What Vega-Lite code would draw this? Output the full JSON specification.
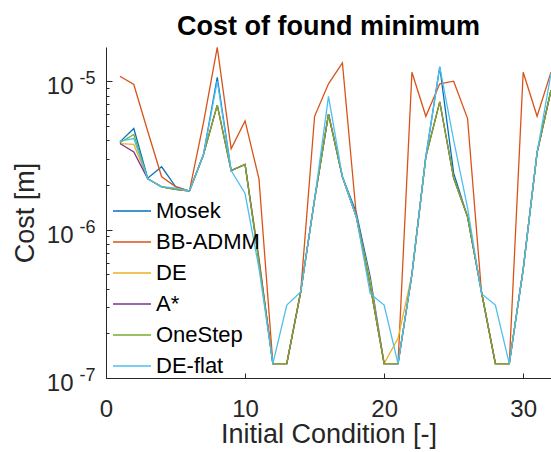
{
  "$schema": "https://vega.github.io/schema/vega-lite/v6.json",
  "autosize": "none",
  "width": 445,
  "height": 331,
  "padding": {"left": 106, "top": 47, "right": 0, "bottom": 74},
  "background": "white",
  "config": {
    "view": {"stroke": null},
    "font": "Liberation Sans",
    "axis": {"grid": false, "domainColor": "#262626", "tickColor": "#262626", "labelColor": "#262626", "titleColor": "#262626", "labelFont": "Liberation Sans", "titleFont": "Liberation Sans", "titleFontWeight": "normal", "domainWidth": 1, "tickWidth": 1}
  },
  "title": {"text": "Cost of found minimum", "fontSize": 27, "fontWeight": "bold", "font": "Liberation Sans", "color": "#000000", "anchor": "middle", "offset": 4},
  "data": {"values": [
    {"m":"Mosek","x":1,"c":3.9e-6},{"m":"Mosek","x":2,"c":4.8e-6},{"m":"Mosek","x":3,"c":2.22e-6},{"m":"Mosek","x":4,"c":2.65e-6},{"m":"Mosek","x":5,"c":1.95e-6},{"m":"Mosek","x":6,"c":1.82e-6},{"m":"Mosek","x":7,"c":3.18e-6},{"m":"Mosek","x":8,"c":1.06e-5},{"m":"Mosek","x":9,"c":2.5e-6},{"m":"Mosek","x":10,"c":2.75e-6},{"m":"Mosek","x":11,"c":6.2e-7},{"m":"Mosek","x":12,"c":1.25e-7},{"m":"Mosek","x":13,"c":1.25e-7},{"m":"Mosek","x":14,"c":3.8e-7},{"m":"Mosek","x":15,"c":1.6e-6},{"m":"Mosek","x":16,"c":6.0e-6},{"m":"Mosek","x":17,"c":2.27e-6},{"m":"Mosek","x":18,"c":1.3e-6},{"m":"Mosek","x":19,"c":4.8e-7},{"m":"Mosek","x":20,"c":1.25e-7},{"m":"Mosek","x":21,"c":1.25e-7},{"m":"Mosek","x":22,"c":5.0e-7},{"m":"Mosek","x":23,"c":3.1e-6},{"m":"Mosek","x":24,"c":1.25e-5},{"m":"Mosek","x":25,"c":2.4e-6},{"m":"Mosek","x":26,"c":1.22e-6},{"m":"Mosek","x":27,"c":3.8e-7},{"m":"Mosek","x":28,"c":1.25e-7},{"m":"Mosek","x":29,"c":1.25e-7},{"m":"Mosek","x":30,"c":5.4e-7},{"m":"Mosek","x":31,"c":3.3e-6},{"m":"Mosek","x":32,"c":8.7e-6},
    {"m":"BB-ADMM","x":1,"c":1.08e-5},{"m":"BB-ADMM","x":2,"c":9.5e-6},{"m":"BB-ADMM","x":3,"c":4.6e-6},{"m":"BB-ADMM","x":4,"c":2.27e-6},{"m":"BB-ADMM","x":5,"c":1.95e-6},{"m":"BB-ADMM","x":6,"c":1.82e-6},{"m":"BB-ADMM","x":7,"c":5.2e-6},{"m":"BB-ADMM","x":8,"c":1.69e-5},{"m":"BB-ADMM","x":9,"c":3.5e-6},{"m":"BB-ADMM","x":10,"c":5.4e-6},{"m":"BB-ADMM","x":11,"c":2.2e-6},{"m":"BB-ADMM","x":12,"c":1.25e-7},{"m":"BB-ADMM","x":13,"c":1.25e-7},{"m":"BB-ADMM","x":14,"c":3.8e-7},{"m":"BB-ADMM","x":15,"c":5.8e-6},{"m":"BB-ADMM","x":16,"c":9.6e-6},{"m":"BB-ADMM","x":17,"c":1.33e-5},{"m":"BB-ADMM","x":18,"c":1.25e-6},{"m":"BB-ADMM","x":19,"c":4.2e-7},{"m":"BB-ADMM","x":20,"c":1.25e-7},{"m":"BB-ADMM","x":21,"c":1.25e-7},{"m":"BB-ADMM","x":22,"c":1.15e-5},{"m":"BB-ADMM","x":23,"c":5.8e-6},{"m":"BB-ADMM","x":24,"c":9.6e-6},{"m":"BB-ADMM","x":25,"c":1.0e-5},{"m":"BB-ADMM","x":26,"c":5.6e-6},{"m":"BB-ADMM","x":27,"c":3.8e-7},{"m":"BB-ADMM","x":28,"c":1.25e-7},{"m":"BB-ADMM","x":29,"c":1.25e-7},{"m":"BB-ADMM","x":30,"c":1.15e-5},{"m":"BB-ADMM","x":31,"c":5.8e-6},{"m":"BB-ADMM","x":32,"c":1.15e-5},
    {"m":"DE","x":1,"c":3.8e-6},{"m":"DE","x":2,"c":3.75e-6},{"m":"DE","x":3,"c":2.2e-6},{"m":"DE","x":4,"c":1.94e-6},{"m":"DE","x":5,"c":1.87e-6},{"m":"DE","x":6,"c":1.82e-6},{"m":"DE","x":7,"c":3.18e-6},{"m":"DE","x":8,"c":6.9e-6},{"m":"DE","x":9,"c":2.5e-6},{"m":"DE","x":10,"c":2.75e-6},{"m":"DE","x":11,"c":6.5e-7},{"m":"DE","x":12,"c":1.25e-7},{"m":"DE","x":13,"c":1.25e-7},{"m":"DE","x":14,"c":3.8e-7},{"m":"DE","x":15,"c":1.6e-6},{"m":"DE","x":16,"c":6.0e-6},{"m":"DE","x":17,"c":2.27e-6},{"m":"DE","x":18,"c":1.22e-6},{"m":"DE","x":19,"c":4.5e-7},{"m":"DE","x":20,"c":1.25e-7},{"m":"DE","x":21,"c":1.85e-7},{"m":"DE","x":22,"c":5.0e-7},{"m":"DE","x":23,"c":3.1e-6},{"m":"DE","x":24,"c":7.25e-6},{"m":"DE","x":25,"c":2.22e-6},{"m":"DE","x":26,"c":1.22e-6},{"m":"DE","x":27,"c":3.8e-7},{"m":"DE","x":28,"c":1.25e-7},{"m":"DE","x":29,"c":1.25e-7},{"m":"DE","x":30,"c":5.4e-7},{"m":"DE","x":31,"c":3.3e-6},{"m":"DE","x":32,"c":8.7e-6},
    {"m":"A*","x":1,"c":3.8e-6},{"m":"A*","x":2,"c":3.34e-6},{"m":"A*","x":3,"c":2.2e-6},{"m":"A*","x":4,"c":1.94e-6},{"m":"A*","x":5,"c":1.87e-6},{"m":"A*","x":6,"c":1.82e-6},{"m":"A*","x":7,"c":3.18e-6},{"m":"A*","x":8,"c":6.9e-6},{"m":"A*","x":9,"c":2.5e-6},{"m":"A*","x":10,"c":2.75e-6},{"m":"A*","x":11,"c":6.2e-7},{"m":"A*","x":12,"c":1.25e-7},{"m":"A*","x":13,"c":1.25e-7},{"m":"A*","x":14,"c":3.8e-7},{"m":"A*","x":15,"c":1.6e-6},{"m":"A*","x":16,"c":6.0e-6},{"m":"A*","x":17,"c":2.27e-6},{"m":"A*","x":18,"c":1.22e-6},{"m":"A*","x":19,"c":4.2e-7},{"m":"A*","x":20,"c":1.25e-7},{"m":"A*","x":21,"c":1.25e-7},{"m":"A*","x":22,"c":5.0e-7},{"m":"A*","x":23,"c":3.1e-6},{"m":"A*","x":24,"c":7.25e-6},{"m":"A*","x":25,"c":2.22e-6},{"m":"A*","x":26,"c":1.22e-6},{"m":"A*","x":27,"c":3.8e-7},{"m":"A*","x":28,"c":1.25e-7},{"m":"A*","x":29,"c":1.25e-7},{"m":"A*","x":30,"c":5.4e-7},{"m":"A*","x":31,"c":3.3e-6},{"m":"A*","x":32,"c":8.7e-6},
    {"m":"OneStep","x":1,"c":3.85e-6},{"m":"OneStep","x":2,"c":4.37e-6},{"m":"OneStep","x":3,"c":2.2e-6},{"m":"OneStep","x":4,"c":1.94e-6},{"m":"OneStep","x":5,"c":1.87e-6},{"m":"OneStep","x":6,"c":1.82e-6},{"m":"OneStep","x":7,"c":3.18e-6},{"m":"OneStep","x":8,"c":6.9e-6},{"m":"OneStep","x":9,"c":2.5e-6},{"m":"OneStep","x":10,"c":2.75e-6},{"m":"OneStep","x":11,"c":6.0e-7},{"m":"OneStep","x":12,"c":1.25e-7},{"m":"OneStep","x":13,"c":1.25e-7},{"m":"OneStep","x":14,"c":3.8e-7},{"m":"OneStep","x":15,"c":1.6e-6},{"m":"OneStep","x":16,"c":6.0e-6},{"m":"OneStep","x":17,"c":2.27e-6},{"m":"OneStep","x":18,"c":1.22e-6},{"m":"OneStep","x":19,"c":4.2e-7},{"m":"OneStep","x":20,"c":1.25e-7},{"m":"OneStep","x":21,"c":1.25e-7},{"m":"OneStep","x":22,"c":5.0e-7},{"m":"OneStep","x":23,"c":3.1e-6},{"m":"OneStep","x":24,"c":7.25e-6},{"m":"OneStep","x":25,"c":2.22e-6},{"m":"OneStep","x":26,"c":1.22e-6},{"m":"OneStep","x":27,"c":3.8e-7},{"m":"OneStep","x":28,"c":1.25e-7},{"m":"OneStep","x":29,"c":1.25e-7},{"m":"OneStep","x":30,"c":5.4e-7},{"m":"OneStep","x":31,"c":3.3e-6},{"m":"OneStep","x":32,"c":8.7e-6},
    {"m":"DE-flat","x":1,"c":3.95e-6},{"m":"DE-flat","x":2,"c":4.11e-6},{"m":"DE-flat","x":3,"c":2.2e-6},{"m":"DE-flat","x":4,"c":1.95e-6},{"m":"DE-flat","x":5,"c":1.9e-6},{"m":"DE-flat","x":6,"c":1.82e-6},{"m":"DE-flat","x":7,"c":3.18e-6},{"m":"DE-flat","x":8,"c":1.0e-5},{"m":"DE-flat","x":9,"c":2.5e-6},{"m":"DE-flat","x":10,"c":1.75e-6},{"m":"DE-flat","x":11,"c":5.5e-7},{"m":"DE-flat","x":12,"c":1.25e-7},{"m":"DE-flat","x":13,"c":3.1e-7},{"m":"DE-flat","x":14,"c":3.8e-7},{"m":"DE-flat","x":15,"c":1.6e-6},{"m":"DE-flat","x":16,"c":7.9e-6},{"m":"DE-flat","x":17,"c":2.27e-6},{"m":"DE-flat","x":18,"c":1.22e-6},{"m":"DE-flat","x":19,"c":3.7e-7},{"m":"DE-flat","x":20,"c":3.1e-7},{"m":"DE-flat","x":21,"c":1.25e-7},{"m":"DE-flat","x":22,"c":5.0e-7},{"m":"DE-flat","x":23,"c":3.1e-6},{"m":"DE-flat","x":24,"c":1.25e-5},{"m":"DE-flat","x":25,"c":4.0e-6},{"m":"DE-flat","x":26,"c":1.4e-6},{"m":"DE-flat","x":27,"c":3.7e-7},{"m":"DE-flat","x":28,"c":3.1e-7},{"m":"DE-flat","x":29,"c":1.25e-7},{"m":"DE-flat","x":30,"c":5.4e-7},{"m":"DE-flat","x":31,"c":3.3e-6},{"m":"DE-flat","x":32,"c":1.13e-5}
  ]},
  "layer": [
    {
      "mark": {"type": "line", "strokeWidth": 1.3},
      "encoding": {
        "x": {"field": "x", "type": "quantitative", "scale": {"domain": [0, 32], "nice": false, "zero": false},
              "axis": {"values": [0, 10, 20, 30], "title": "Initial Condition [-]", "titleFontSize": 27, "labelFontSize": 24, "tickSize": -5, "labelPadding": 24, "titlePadding": 0, "labelFlush": false}},
        "y": {"field": "c", "type": "quantitative", "scale": {"type": "log", "domain": [1e-7, 1.7e-5], "nice": false},
              "axis": {"values": [1e-7, 1e-6, 1e-5], "labelExpr": "'10'", "title": "Cost [m]", "titleFontSize": 27, "labelFontSize": 24, "tickSize": -6, "labelPadding": 39, "labelOffset": 5.5, "titlePadding": 7, "labelBound": false, "labelOverlap": false}},
        "color": {"field": "m", "type": "nominal", "sort": ["Mosek", "BB-ADMM", "DE", "A*", "OneStep", "DE-flat"],
                  "scale": {"domain": ["Mosek", "BB-ADMM", "DE", "A*", "OneStep", "DE-flat"], "range": ["#0072BD", "#D95319", "#EDB120", "#7E2F8E", "#77AC30", "#4DBEEE"]},
                  "legend": {"orient": "none", "legendX": 6, "legendY": 144, "title": null, "symbolType": "stroke", "symbolSize": 1444, "symbolStrokeWidth": 1.5, "labelFontSize": 22, "labelFont": "Liberation Sans", "labelColor": "#000000", "labelOffset": 4, "rowPadding": -7.4, "fillColor": null, "strokeColor": null}}
      }
    },
    {
      "mark": {"type": "point", "opacity": 0},
      "encoding": {
        "x": {"field": "x", "type": "quantitative"},
        "y": {"field": "c", "type": "quantitative",
              "axis": {"values": [1e-7, 2e-7, 3e-7, 4e-7, 5e-7, 6e-7, 7e-7, 8e-7, 9e-7, 1e-6, 2e-6, 3e-6, 4e-6, 5e-6, 6e-6, 7e-6, 8e-6, 9e-6, 1e-5],
                       "labelExpr": "datum.value == 0.00001 ? '-5' : datum.value == 0.000001 ? '-6' : datum.value == 0.0000001 ? '-7' : ''",
                       "orient": "left", "title": null, "domain": false, "tickSize": -3, "labelFontSize": 18, "labelPadding": 14, "labelOffset": -2.5, "labelBound": false, "labelOverlap": false}}
      }
    }
  ],
  "resolve": {"axis": {"y": "independent"}}
}
